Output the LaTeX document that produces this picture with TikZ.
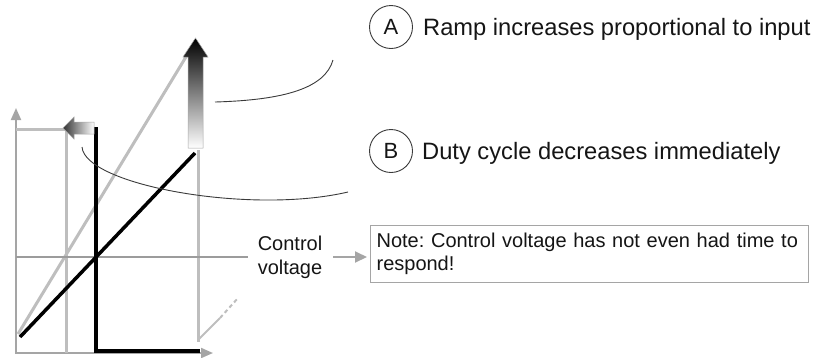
\documentclass[tikz,border=0pt]{standalone}
\usepackage{fontspec}
\setmainfont{Liberation Sans}
\usetikzlibrary{arrows.meta,positioning}
\definecolor{rampGray}{HTML}{BEBEBE}
\definecolor{axisGray}{HTML}{A5A5A5}
\definecolor{ctrlGray}{HTML}{9C9C9C}
\definecolor{leadGray}{HTML}{3A3A3A}
\definecolor{inkGray}{HTML}{151515}
\tikzset{
  axis/.style={draw=axisGray, line width=2pt, -{Triangle[length=12pt,width=10pt]}},
  guide/.style={draw=rampGray, line width=3pt},
  ramp/.style={draw=black, line width=3.5pt, line join=miter},
  lead/.style={draw=leadGray, line width=0.9pt},
  tag/.style={circle, draw=leadGray, line width=0.9pt, minimum size=43pt, inner sep=0pt, text=inkGray, font=\fontsize{22}{26}\selectfont},
  caption/.style={inner sep=0pt, anchor=base west, text=inkGray, font=\fontsize{23.7}{28}\selectfont},
  notebox/.style={rectangle, draw=axisGray, line width=1.2pt, fill=white, align=left, text width=426pt, inner xsep=6pt, inner ysep=4pt, minimum height=57pt, anchor=north west, text=inkGray, font=\fontsize{20}{23}\selectfont},
  small/.style={align=center, inner sep=0pt, text=inkGray, font=\fontsize{20}{24}\selectfont},
  pointer/.style={draw=axisGray, line width=2pt, -{Triangle[length=12pt,width=11pt]}}
}
\frenchspacing
\begin{document}
\begin{tikzpicture}[x=1pt, y=-1pt]
  \useasboundingbox (0,0) rectangle (819,357);

  % axes
  \draw[axis] (16,354) -- (16,108);
  \draw[axis] (15,353) -- (213,353);

  % gray reference lines
  \draw[guide] (16,129) -- (66,129) -- (66,353);
  \draw[guide] (18,334) -- (195,42);
  \draw[guide] (198,150) -- (198,342);
  \draw[guide, line width=2pt] (198,340) -- (220,318);
  \draw[guide, line width=2pt, dash pattern=on 4pt off 3pt] (220,318) -- (238,298);

  % labels
  \node[small] (ctrl) at (290,257) {Control\\voltage};
  \node[notebox] (note) at (370,225) {Note: Control voltage has not even had time to\\respond!};
  \node[tag] (tagA) at (391,27) {A};
  \node[caption] (capA) at (423,35.5) {Ramp increases proportional to input};
  \node[tag] (tagB) at (391,151) {B};
  \node[caption] (capB) at (422,159.5) {Duty cycle decreases immediately};

  \draw[draw=ctrlGray, line width=2pt, shorten >=10pt] (16,257) -- (ctrl.west |- 16,257);
  \draw[pointer, shorten <=11pt, shorten >=3pt] (ctrl.east) -- (ctrl.east -| note.west);

  % black ramp and duty cycle
  \draw[ramp] (20,337) -- (195,153);
  \draw[ramp] (96,127) -- (96,351) -- (200,351);

  % shaded arrows
  \shade[top color=black, bottom color=white, draw=black!35, line width=0.5pt]
    (188,148) -- (188,57) -- (183,57) -- (195.5,38) -- (208,57) -- (203,57) -- (203,148) -- cycle;
  \shade[left color=black!80, right color=white, draw=black!35, line width=0.5pt]
    (94,122) -- (74,122) -- (74,117) -- (63,128) -- (74,139) -- (74,134) -- (94,134) -- cycle;

  % leaders
  \coordinate (leadA1) at (215,102);
  \coordinate (leadA2) at (333,60);
  \coordinate (leadB1) at (82,147);
  \coordinate (leadB2) at (348,192);
  \draw[lead] (leadA1) .. controls (285,100) and (325,88) .. (leadA2);
  \draw[lead] (leadB1) .. controls (85,185) and (250,215) .. (leadB2);
\end{tikzpicture}
\end{document}
